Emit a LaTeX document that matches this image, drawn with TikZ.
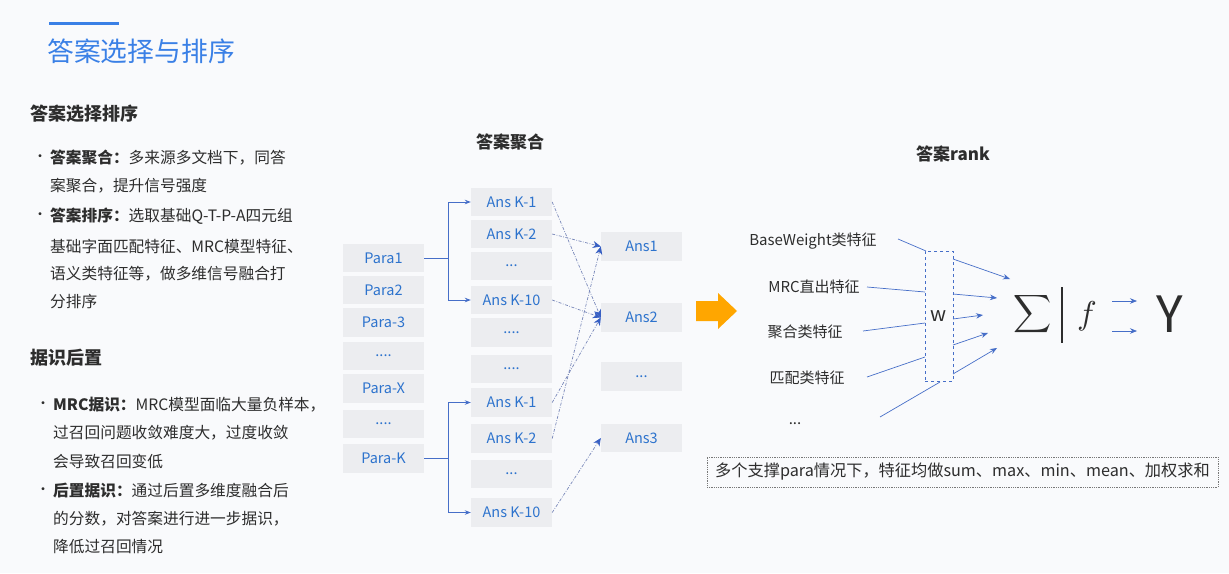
\documentclass[tikz,border=0pt]{standalone}
\usepackage{graphicx}
\usepackage{fontspec}
\setmainfont{Noto Sans CJK SC}
\usetikzlibrary{arrows.meta,calc}
\definecolor{bg}{RGB}{249,250,252}
\definecolor{titleblue}{RGB}{58,128,230}
\definecolor{boxgray}{RGB}{236,237,240}
\definecolor{boxtext}{RGB}{45,115,205}
\definecolor{lineblue}{RGB}{70,110,200}
\definecolor{dashblue}{RGB}{120,135,185}
\definecolor{tipblue}{RGB}{55,95,195}
\definecolor{txt}{RGB}{45,45,45}
\definecolor{orangeA}{RGB}{255,166,0}
\definecolor{dotgray}{RGB}{120,120,120}
\begin{document}
\begin{tikzpicture}[x=1pt,y=-1pt,
  pbox/.style={fill=boxgray, minimum width=81pt, minimum height=28.5pt, inner sep=0pt, text=boxtext, font=\fontsize{14.5}{16}\selectfont},
  txtline/.style={anchor=west, inner sep=0pt, text=txt, font=\fontsize{15.7}{18}\selectfont},
  bul/.style={anchor=west, inner sep=0pt, text=txt, font=\fontsize{14}{16}\selectfont},
  headtxt/.style={anchor=west, inner sep=0pt, text=txt, font=\fontsize{18}{20}\selectfont\bfseries},
  subhead/.style={inner sep=0pt, text=txt, font=\fontsize{17}{20}\selectfont\bfseries},
  feat/.style={inner sep=0pt, text=txt, font=\fontsize{15}{18}\selectfont},
  conn/.style={draw=lineblue, line width=0.8pt, -{Stealth[length=6pt,width=4.5pt]}},
  dconn/.style={draw=dashblue, line width=0.7pt, dash pattern=on 3pt off 1.5pt on 0.8pt off 1.5pt, -{Stealth[length=8pt,width=7pt,color=tipblue]}},
  inl/.style={draw=lineblue, line width=0.7pt},
  outa/.style={draw=lineblue, line width=0.7pt, -{Stealth[length=7pt,width=5.5pt]}}
]
\useasboundingbox (0,0) rectangle (1229,573);
\fill[bg] (0,0) rectangle (1229,573);

% title
\draw[titleblue, line width=3pt] (49,23) -- (119,23);
\node[anchor=west, inner sep=0pt, text=titleblue, font=\fontsize{26.8}{30}\selectfont] (title) at (47,51) {答案选择与排序};

% left text
\node[headtxt] (h1) at (30,114) {答案选择排序};
\node[bul] (b1) at (33,158) {•};
\node[txtline] (l1) at (50,158) {\textbf{答案聚合：}多来源多文档下，同答};
\node[txtline] (l2) at (50,186) {案聚合，提升信号强度};
\node[bul] (b2) at (33,216) {•};
\node[txtline] (l3) at (50,216) {\textbf{答案排序：}选取基础Q-T-P-A四元组};
\node[txtline] (l4) at (50,246) {基础字面匹配特征、MRC模型特征、};
\node[txtline] (l5) at (50,274) {语义类特征等，做多维信号融合打};
\node[txtline] (l6) at (50,302) {分排序};

\node[headtxt] (h2) at (30,358) {据识后置};
\node[bul] (b3) at (36,405) {•};
\node[txtline] (m1) at (53,405) {\textbf{MRC据识：}MRC模型面临大量负样本，};
\node[txtline] (m2) at (53,433) {过召回问题收敛难度大，过度收敛};
\node[txtline] (m3) at (53,461) {会导致召回变低};
\node[bul] (b4) at (36,491) {•};
\node[txtline] (m4) at (53,491) {\textbf{后置据识：}通过后置多维度融合后};
\node[txtline] (m5) at (53,519) {的分数，对答案进行进一步据识，};
\node[txtline] (m6) at (53,547) {降低过召回情况};

% middle
\node[subhead] (t2) at (510,142) {答案聚合};
\node[pbox] (p1) at (383.5,258) {Para1};
\node[pbox] (p2) at (383.5,290) {Para2};
\node[pbox] (p3) at (383.5,322.5) {Para-3};
\node[pbox] (p4) at (383.5,356) {....};
\node[pbox] (px) at (383.5,388.5) {Para-X};
\node[pbox] (p6) at (383.5,424) {....};
\node[pbox] (pk) at (383.5,458.5) {Para-K};

\node[pbox] (k1) at (511.5,202) {Ans K-1};
\node[pbox] (k2) at (511.5,234) {Ans K-2};
\node[pbox] (k3) at (511.5,266) {...};
\node[pbox] (k10) at (511.5,300) {Ans K-10};
\node[pbox] (k5) at (511.5,332.5) {....};
\node[pbox] (k6) at (511.5,369) {....};
\node[pbox] (kb1) at (511.5,402.5) {Ans K-1};
\node[pbox] (kb2) at (511.5,438.5) {Ans K-2};
\node[pbox] (kb3) at (511.5,474) {...};
\node[pbox] (kb10) at (511.5,512.5) {Ans K-10};

\node[pbox] (a1) at (641.5,246.5) {Ans1};
\node[pbox] (a2) at (641.5,317.5) {Ans2};
\node[pbox] (a4) at (641.5,376.5) {...};
\node[pbox] (a3) at (641.5,438) {Ans3};

\draw[conn] (p1.east) -- ++(24,0) |- (k1.west);
\draw[conn] (p1.east) -- ++(24,0) |- (k10.west);
\draw[conn] (pk.east) -- ++(24,0) |- (kb1.west);
\draw[conn] (pk.east) -- ++(24,0) |- (kb10.west);

\draw[dconn] (k1.east) -- (a2.west);
\draw[dconn] (k2.east) -- (a1.west);
\draw[dconn] (k10.east) -- (a2.west);
\draw[dconn] (kb1.east) -- (a2.west);
\draw[dconn] (kb2.east) -- (a1.west);
\draw[dconn] (kb10.east) -- (a3.west);

% orange arrow
\fill[orangeA] (696,301) -- (718,301) -- (718,293) -- (737,311) -- (718,329) -- (718,321) -- (696,321) -- cycle;

% right
\node[subhead] (t3) at (953,154) {答案rank};
\node[feat] (f1) at (813,241) {BaseWeight类特征};
\node[feat] (f2) at (814,287) {MRC直出特征};
\node[feat] (f3) at (805,332) {聚合类特征};
\node[feat] (f4) at (807,378) {匹配类特征};
\node[feat] (f5) at (795,424) {...};

\node[draw=lineblue, dashed, line width=0.9pt, minimum width=28pt, minimum height=130pt, inner sep=0pt, text=txt, font=\fontsize{20}{22}\selectfont] (w) at (939,316) {w};

\coordinate (s1) at (898,239);
\coordinate (s2) at (867,287);
\coordinate (s3) at (863,331);
\coordinate (s4) at (867,377);
\coordinate (s5) at (880,417);
\coordinate (e1) at (926,251);
\coordinate (e2) at (925,292);
\coordinate (e3) at (925,323);
\coordinate (e4) at (925,357);
\coordinate (e5) at (940,382);
\draw[inl] (s1) -- (e1);
\draw[inl] (s2) -- (e2);
\draw[inl] (s3) -- (e3);
\draw[inl] (s4) -- (e4);
\draw[inl] (s5) -- (e5);

\coordinate (o1) at (953,259);
\coordinate (o2) at (953,294);
\coordinate (o3) at (953,319);
\coordinate (o4) at (953,345);
\coordinate (o5) at (953,374);
\coordinate (q1) at (1010,279);
\coordinate (q2) at (997,298);
\coordinate (q3) at (983,315);
\coordinate (q4) at (988,333);
\coordinate (q5) at (997,348);
\draw[outa] (o1) -- (q1);
\draw[outa] (o2) -- (q2);
\draw[outa] (o3) -- (q3);
\draw[outa] (o4) -- (q4);
\draw[outa] (o5) -- (q5);

\node[inner sep=0pt, text=txt] (sig) at (1033,314) {\scalebox{2.65}{$\displaystyle\sum$}};
\coordinate (bt) at (1062,287);
\coordinate (bb) at (1062,343);
\draw[txt, line width=1.3pt] (bt) -- (bb);
\node[inner sep=0pt, text=txt] (fn) at (1087,316) {\scalebox{3.3}{$f$}};
\coordinate (r1) at (1112,301);
\coordinate (r2) at (1137,301);
\coordinate (r3) at (1112,331);
\coordinate (r4) at (1137,331);
\draw[outa] (r1) -- (r2);
\draw[outa] (r3) -- (r4);
\node[inner sep=0pt, text=txt, font=\fontsize{50}{52}\selectfont] (Y) at (1170,314) {Y};

\node[draw=dotgray, densely dotted, line width=0.8pt, minimum width=511pt, minimum height=30pt, inner sep=0pt, text=txt, font=\fontsize{16.2}{18}\selectfont] (note) at (962.5,472) {多个支撑para情况下，特征均做sum、max、min、mean、加权求和};
\end{tikzpicture}
\end{document}
